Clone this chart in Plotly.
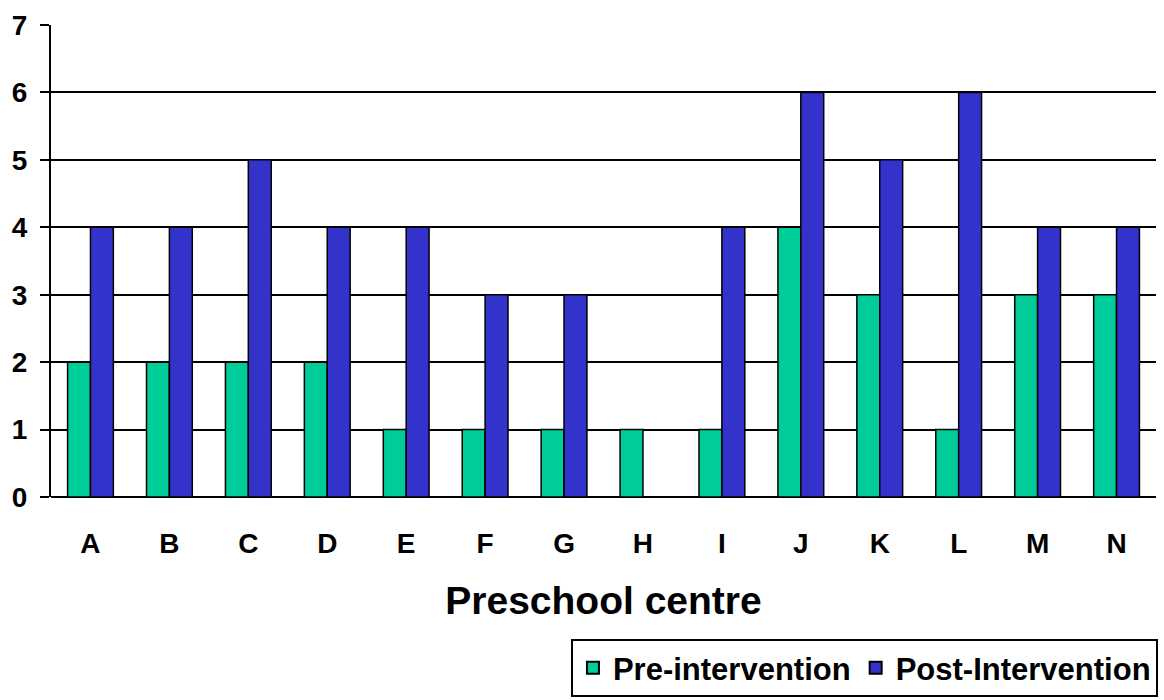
import plotly.graph_objects as go

categories = ["A", "B", "C", "D", "E", "F", "G", "H", "I", "J", "K", "L", "M", "N"]
pre_values = [2, 2, 2, 2, 1, 1, 1, 1, 1, 4, 3, 1, 3, 3]
post_values = [4, 4, 5, 4, 4, 3, 3, 0, 4, 6, 5, 6, 4, 4]
y_ticks = [0, 1, 2, 3, 4, 5, 6, 7]

FONT = "Arial, Liberation Sans, sans-serif"

fig = go.Figure()
fig.add_trace(go.Bar(
    x=categories, y=pre_values, name="Pre-intervention",
    marker=dict(color="#00CC99", line=dict(color="black", width=1.5)),
))
fig.add_trace(go.Bar(
    x=categories, y=post_values, name="Post-Intervention",
    marker=dict(color="#3333CC", line=dict(color="black", width=1.5)),
))

fig.update_layout(
    width=1164, height=700,
    margin=dict(l=51, r=8, t=25, b=203, autoexpand=False),
    paper_bgcolor="white", plot_bgcolor="white",
    barmode="group", bargap=0.42, bargroupgap=0,
    font=dict(family=FONT, color="black"),
    showlegend=True,
    legend=dict(
        orientation="h", xref="container", yref="container",
        x=0.9948, xanchor="right", y=0.004, yanchor="bottom",
        font=dict(family=FONT, size=31, color="black", weight="bold"),
        bordercolor="black", borderwidth=2, bgcolor="white",
        itemsizing="constant", traceorder="normal",
    ),
    xaxis=dict(
        type="category", automargin=False,
        tickfont=dict(family=FONT, size=28, color="black", weight="bold"),
        showline=False, showgrid=False, ticks="", ticklabelstandoff=27,
        title=dict(text="Preschool centre", standoff=28,
                   font=dict(family=FONT, size=39, color="black", weight="bold")),
    ),
    yaxis=dict(
        range=[0, 7], tickvals=y_ticks, automargin=False,
        tickfont=dict(family=FONT, size=28, color="black", weight="bold"),
        showgrid=True, gridcolor="black", gridwidth=2,
        zeroline=True, zerolinecolor="black", zerolinewidth=2,
        showline=True, linecolor="black", linewidth=2,
        ticks="outside", ticklen=9, tickcolor="black", tickwidth=2,
        ticklabelstandoff=7,
    ),
)

fig.write_html(
    "out.html",
    config={"displayModeBar": False},
    post_script=(
        "document.body.style.margin='0';"
        "document.body.style.overflow='hidden';"
        "document.documentElement.style.overflow='hidden';"
    ),
)
